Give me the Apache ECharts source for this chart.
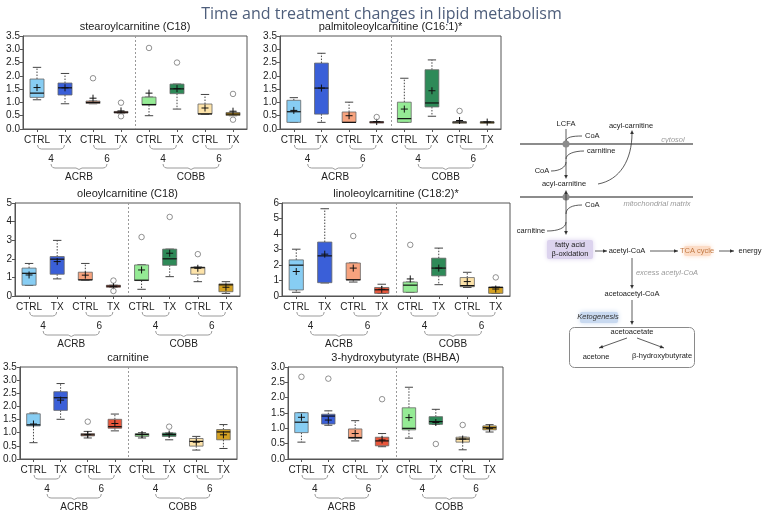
<!DOCTYPE html>
<html><head><meta charset="utf-8">
<script src="https://cdn.jsdelivr.net/npm/echarts@6/dist/echarts.min.js"></script>
<style>html,body{margin:0;padding:0;background:#fff}#c{width:763px;height:510px}</style>
</head><body><div id="c"></div>
<script>
const categories = ['CTRL','TX','CTRL','TX','CTRL','TX','CTRL','TX'];
const timeLabels = ['4','6','4','6'];
const groupLabels = ['ACRB','COBB'];
const boxColors = ['#87cdf3','#3a5fd8','#f7a37e','#e8563b','#95eb95','#2e8a58','#fde3a9','#d4a122'];
const panelTitles = ['stearoylcarnitine (C18)','palmitoleoylcarnitine (C16:1)*','oleoylcarnitine (C18)','linoleoylcarnitine (C18:2)*','carnitine','3-hydroxybutyrate (BHBA)'];
const yMaxes = [3.5, 3.5, 5, 6, 3.5, 3.0];
const yIntervals = [0.5, 0.5, 1, 1, 0.5, 0.5];

// [min, Q1, median, Q3, max]
const stearoylBoxes = [[1.10,1.19,1.35,1.88,2.32],[0.95,1.28,1.55,1.73,2.09],[0.95,0.96,1.00,1.05,1.05],[0.60,0.60,0.63,0.66,0.66],[0.50,0.90,0.92,1.20,1.20],[0.75,1.33,1.51,1.69,1.69],[0.55,0.56,0.57,0.94,1.30],[0.50,0.51,0.56,0.62,0.63]];
const stearoylMeans = [1.56,1.55,1.16,0.68,1.35,1.52,0.79,0.67];
const stearoylOutliers = [[2,1.91],[3,0.99],[3,0.48],[4,3.05],[5,2.50],[7,1.32],[7,0.35]];

const palmitoleoylBoxes = [[0.25,0.25,0.65,1.08,1.18],[0.25,0.56,1.54,2.48,2.85],[0.25,0.25,0.25,0.64,1.01],[0.25,0.25,0.26,0.28,0.28],[0.25,0.25,0.39,1.01,1.91],[0.48,0.83,0.98,2.23,2.60],[0.25,0.25,0.26,0.27,0.27],[0.25,0.25,0.26,0.27,0.27]];
const palmitoleoylMeans = [0.70,1.54,0.50,0.28,0.75,1.44,0.32,0.26];
const palmitoleoylOutliers = [[3,0.45],[6,0.68]];

const oleoylBoxes = [[0.57,0.58,1.22,1.50,1.75],[0.92,1.17,1.98,2.12,2.99],[0.85,0.86,0.87,1.28,1.75],[0.47,0.47,0.53,0.58,0.58],[0.36,0.83,0.85,1.67,1.68],[1.04,1.65,2.00,2.52,2.52],[0.77,1.17,1.52,1.55,1.56],[0.14,0.23,0.60,0.65,0.77]];
const oleoylMeans = [1.13,1.85,1.12,0.52,1.40,2.30,1.49,0.47];
const oleoylOutliers = [[3,0.83],[3,0.27],[4,3.17],[5,4.25],[6,2.25]];

const linoleoylBoxes = [[0.24,0.39,1.99,2.33,3.02],[0.84,0.86,2.59,3.48,5.63],[0.90,1.03,1.05,2.13,2.13],[0.17,0.17,0.40,0.55,0.76],[0.24,0.24,0.70,0.90,0.90],[0.73,1.30,1.80,2.44,3.09],[0.55,0.60,0.67,1.19,1.53],[0.17,0.17,0.55,0.58,0.58]];
const linoleoylMeans = [1.58,2.70,1.80,0.43,1.10,1.80,0.93,0.45];
const linoleoylOutliers = [[2,3.87],[4,3.30],[7,1.20]];

const carnitineBoxes = [[0.62,1.26,1.30,1.72,1.75],[1.51,1.85,2.33,2.56,2.87],[0.80,0.88,0.92,0.97,1.05],[1.07,1.17,1.23,1.51,1.71],[0.80,0.86,0.93,0.97,1.00],[0.73,0.86,0.93,0.99,0.99],[0.34,0.49,0.67,0.78,0.86],[0.40,0.73,1.03,1.12,1.31]];
const carnitineMeans = [1.33,2.24,0.93,1.35,0.93,0.95,0.64,0.92];
const carnitineOutliers = [[2,1.42],[5,1.23]];

const bhbaBoxes = [[0.55,0.86,1.20,1.51,1.51],[1.10,1.14,1.40,1.46,1.57],[0.59,0.67,0.70,0.98,1.25],[0.40,0.43,0.59,0.71,0.83],[0.68,0.95,1.00,1.67,2.34],[1.13,1.13,1.22,1.38,1.62],[0.30,0.55,0.65,0.71,0.71],[0.88,0.95,1.02,1.08,1.12]];
const bhbaMeans = [1.36,1.27,0.83,0.62,1.35,1.19,0.65,1.00];
const bhbaOutliers = [[0,2.68],[1,2.62],[3,1.95],[5,0.49],[6,1.11]];

const allBoxes = [stearoylBoxes, palmitoleoylBoxes, oleoylBoxes, linoleoylBoxes, carnitineBoxes, bhbaBoxes];
const allMeans = [stearoylMeans, palmitoleoylMeans, oleoylMeans, linoleoylMeans, carnitineMeans, bhbaMeans];
const allOutliers = [stearoylOutliers, palmitoleoylOutliers, oleoylOutliers, linoleoylOutliers, carnitineOutliers, bhbaOutliers];

// layout (positions only)
const layout = [
  {left:23, top:36, width:224, height:93},
  {left:280, top:36, width:221, height:93},
  {left:15, top:203, width:225, height:93},
  {left:282, top:203, width:228, height:93},
  {left:19, top:367, width:218, height:92},
  {left:288, top:367, width:215, height:92}
];
const FONT = 'Liberation Sans, Arial, sans-serif';

const chart = echarts.init(document.getElementById('c'));

function renderBox(params, api) {
  const cat = api.value(0);
  const p = (v) => api.coord([cat, v]);
  const x = p(api.value(1))[0];
  const yMin = p(api.value(1))[1], yQ1 = p(api.value(2))[1], yMed = p(api.value(3))[1], yQ3 = p(api.value(4))[1], yMax = p(api.value(5))[1], yMean = p(api.value(6))[1];
  const cw = api.size([1, 0])[0];
  const bw = cw * 0.5, capw = bw * 0.6;
  const dash = {stroke:'#444', lineWidth:1, lineDash:[1.5,1.5]};
  const solid = {stroke:'#444', lineWidth:1};
  return {type:'group', children:[
    {type:'line', shape:{x1:x,y1:yQ3,x2:x,y2:yMax}, style:dash},
    {type:'line', shape:{x1:x,y1:yQ1,x2:x,y2:yMin}, style:dash},
    {type:'line', shape:{x1:x-capw/2,y1:yMax,x2:x+capw/2,y2:yMax}, style:solid},
    {type:'line', shape:{x1:x-capw/2,y1:yMin,x2:x+capw/2,y2:yMin}, style:solid},
    {type:'rect', shape:{x:x-bw/2, y:yQ3, width:bw, height:Math.max(yQ1-yQ3,1.5)}, style:{fill:boxColors[cat], stroke:'#666', lineWidth:0.8}},
    {type:'line', shape:{x1:x-bw/2,y1:yMed,x2:x+bw/2,y2:yMed}, style:{stroke:'#111', lineWidth:1.2}},
    {type:'line', shape:{x1:x-3.5,y1:yMean,x2:x+3.5,y2:yMean}, style:{stroke:'#111', lineWidth:1}},
    {type:'line', shape:{x1:x,y1:yMean-3.5,x2:x,y2:yMean+3.5}, style:{stroke:'#111', lineWidth:1}}
  ]};
}

const grids = [], xAxes = [], yAxes = [], series = [];
layout.forEach((g, i) => {
  grids.push(Object.assign({show:true, borderColor:'#555', borderWidth:1, backgroundColor:'transparent'}, g));
  xAxes.push({type:'category', gridIndex:i, data:categories, boundaryGap:true,
    axisLine:{show:true, lineStyle:{color:'#555'}},
    axisTick:{show:true, alignWithLabel:true, length:3, lineStyle:{color:'#555'}},
    axisLabel:{color:'#222', fontSize:10, margin:6, fontFamily:FONT, interval:0},
    splitLine:{show:false}});
  const dec = yIntervals[i] < 1 ? 1 : 0;
  yAxes.push({type:'value', gridIndex:i, min:0, max:yMaxes[i], interval:yIntervals[i],
    axisLine:{show:true, lineStyle:{color:'#555'}},
    axisTick:{show:true, length:3, lineStyle:{color:'#555'}},
    axisLabel:{color:'#222', fontSize:10, margin:3, fontFamily:FONT, formatter:(v)=>v.toFixed(dec)},
    splitLine:{show:false}});
  series.push({type:'custom', xAxisIndex:i, yAxisIndex:i, renderItem:renderBox,
    encode:{x:0, y:[1,2,3,4,5]},
    data: allBoxes[i].map((b, k) => [k, ...b, allMeans[i][k]])});
  series.push({type:'scatter', xAxisIndex:i, yAxisIndex:i, symbol:'circle', symbolSize:5.5,
    itemStyle:{color:'#fff', borderColor:'#555', borderWidth:0.8}, data: allOutliers[i]});
});

chart.setOption({
  animation:false,
  textStyle:{fontFamily:FONT},
  title:{text:'Time and treatment changes in lipid metabolism', left:'center', top:1,
    textStyle:{fontSize:16, fontWeight:'normal', color:'#4e5e7b', fontFamily:'Open Sans, Liberation Sans, sans-serif'}},
  grid:grids, xAxis:xAxes, yAxis:yAxes, series:series
});

// decorations computed from the axes
const gfx = [];
function txt(x, y, s, font, fill, align) {
  gfx.push({type:'text', silent:true, style:{text:s, x:x, y:y, font:font, fill:fill||'#222',
    textAlign:align||'center', align:align||'center', textVerticalAlign:'middle', verticalAlign:'middle'}});
}
function bracket(x1, x2, y, notch) {
  const xm = (x1 + x2) / 2;
  const pts = [[x1,y-4],[x1+0.6,y-1.8],[x1+1.8,y-0.5],[x1+4,y]];
  if (notch) pts.push([xm-3,y],[xm,y+1.5],[xm+3,y]);
  pts.push([x2-4,y],[x2-1.8,y-0.5],[x2-0.6,y-1.8],[x2,y-4]);
  gfx.push({type:'polyline', silent:true, shape:{points:pts}, style:{stroke:'#9a9a9a', lineWidth:1, fill:null}});
}
layout.forEach((g, i) => {
  const px = (c) => chart.convertToPixel({xAxisIndex:i}, c);
  const bottom = chart.convertToPixel({yAxisIndex:i}, 0);
  const top = chart.convertToPixel({yAxisIndex:i}, yMaxes[i]);
  const cw = px(1) - px(0);
  const xd = Math.round((px(3) + px(4)) / 2) + 0.5;
  gfx.push({type:'line', silent:true, shape:{x1:xd, y1:top, x2:xd, y2:bottom}, style:{stroke:'#999', lineWidth:1, lineDash:[2,2]}});
  txt(g.left + g.width/2, top - 9, panelTitles[i], '11px ' + FONT, '#222');
  const mids = [];
  for (let k = 0; k < 4; k++) {
    const m = (px(2*k) + px(2*k+1)) / 2;
    mids.push(m);
    bracket(m - cw*0.48, m + cw*0.48, bottom + 20, false);
    txt(m, bottom + 30, timeLabels[k], '10px ' + FONT, '#222');
  }
  for (let gI = 0; gI < 2; gI++) {
    const m1 = mids[2*gI], m2 = mids[2*gI+1];
    bracket(m1, m2, bottom + 39, true);
    txt((m1 + m2) / 2, bottom + 48, groupLabels[gI], '10px ' + FONT, '#222');
  }
});

// pathway diagram
const D = '7.5px ' + FONT, DI = 'italic 7.5px ' + FONT;
function line(x1,y1,x2,y2,c,w){ gfx.push({type:'line', silent:true, shape:{x1,y1,x2,y2}, style:{stroke:c||'#333', lineWidth:w||0.8}}); }
function curve(x1,y1,cx1,cy1,cx2,cy2,x2,y2){ gfx.push({type:'bezierCurve', silent:true, shape:{x1,y1,cpx1:cx1,cpy1:cy1,cpx2:cx2,cpy2:cy2,x2,y2}, style:{stroke:'#333', lineWidth:0.8, fill:null}}); }
function head(x,y,dx,dy){ const l=Math.hypot(dx,dy); dx/=l; dy/=l; const nx=-dy, ny=dx;
  gfx.push({type:'polygon', silent:true, shape:{points:[[x,y],[x-4*dx+1.8*nx,y-4*dy+1.8*ny],[x-4*dx-1.8*nx,y-4*dy-1.8*ny]]}, style:{fill:'#333'}}); }
function arrow(x1,y1,x2,y2){ line(x1,y1,x2,y2); head(x2,y2,x2-x1,y2-y1); }
function hl(x,y,w,h,c){ gfx.push({type:'rect', silent:true, shape:{x,y,width:w,height:h,r:2}, style:{fill:c, shadowBlur:5, shadowColor:c}}); }

line(520,144,693,144,'#8c8c8c',2);
line(520,197,693,197,'#8c8c8c',2);
txt(673,140,'cytosol',DI,'#9a9a9a');
txt(657,204,'mitochondrial matrix',DI,'#9a9a9a');
txt(566,124,'LCFA',D);
line(566,129,566,176); head(566,179,0,1);
curve(566,141,566,137,573,136,582,136); txt(585,136,'CoA',D,'#222','left');
curve(584,151,574,151,566,154,566,159); txt(587,151,'carnitine',D,'#222','left');
curve(551,171,560,171,566,167,566,162); txt(542,171,'CoA',D);
txt(564,184,'acyl-carnitine',D);
curve(598,184,620,180,632,160,632,133); head(632,130,0,-1);
txt(631,126,'acyl-carnitine',D);
gfx.push({type:'circle', silent:true, shape:{cx:566,cy:144,r:3.5}, style:{fill:'#8c8c8c'}});
gfx.push({type:'circle', silent:true, shape:{cx:566,cy:197,r:3.5}, style:{fill:'#8c8c8c'}});
line(566,193,566,232); head(566,190,0,-1); head(566,235,0,1);
curve(582,205,572,205,566,208,566,214); txt(585,205,'CoA',D,'#222','left');
curve(547,231,558,231,566,228,566,222); txt(531,231,'carnitine',D);
hl(547,240,46,19,'#dcd3ee');
txt(570,245,'fatty acid',D); txt(570,254,'β-oxidation',D);
arrow(595,251,607,251);
txt(627,251,'acetyl-CoA',D);
arrow(650,251,678,251);
hl(684,246,27,10,'#fcdcc6');
txt(697,251,'TCA cycle',D,'#c27a45');
arrow(719,251,734,251);
txt(750,251,'energy',D);
line(632,258,632,286); head(632,289,0,1);
txt(667,273,'excess acetyl-CoA',DI,'#9a9a9a');
txt(632,294,'acetoacetyl-CoA',D);
line(632,300,632,322); head(632,325,0,1);
hl(580,312,38,11,'#c8d9f0');
txt(598,317,'Ketogenesis',DI,'#333');
gfx.push({type:'rect', silent:true, shape:{x:569.5,y:327.5,width:125,height:40,r:5}, style:{fill:null, stroke:'#8a8a8a', lineWidth:1}});
txt(632,332,'acetoacetate',D);
arrow(627,338,599,348); arrow(637,338,664,348);
txt(596,357,'acetone',D); txt(662,356,'β-hydroxybutyrate',D);

chart.setOption({graphic:{elements:gfx}});
</script></body></html>
